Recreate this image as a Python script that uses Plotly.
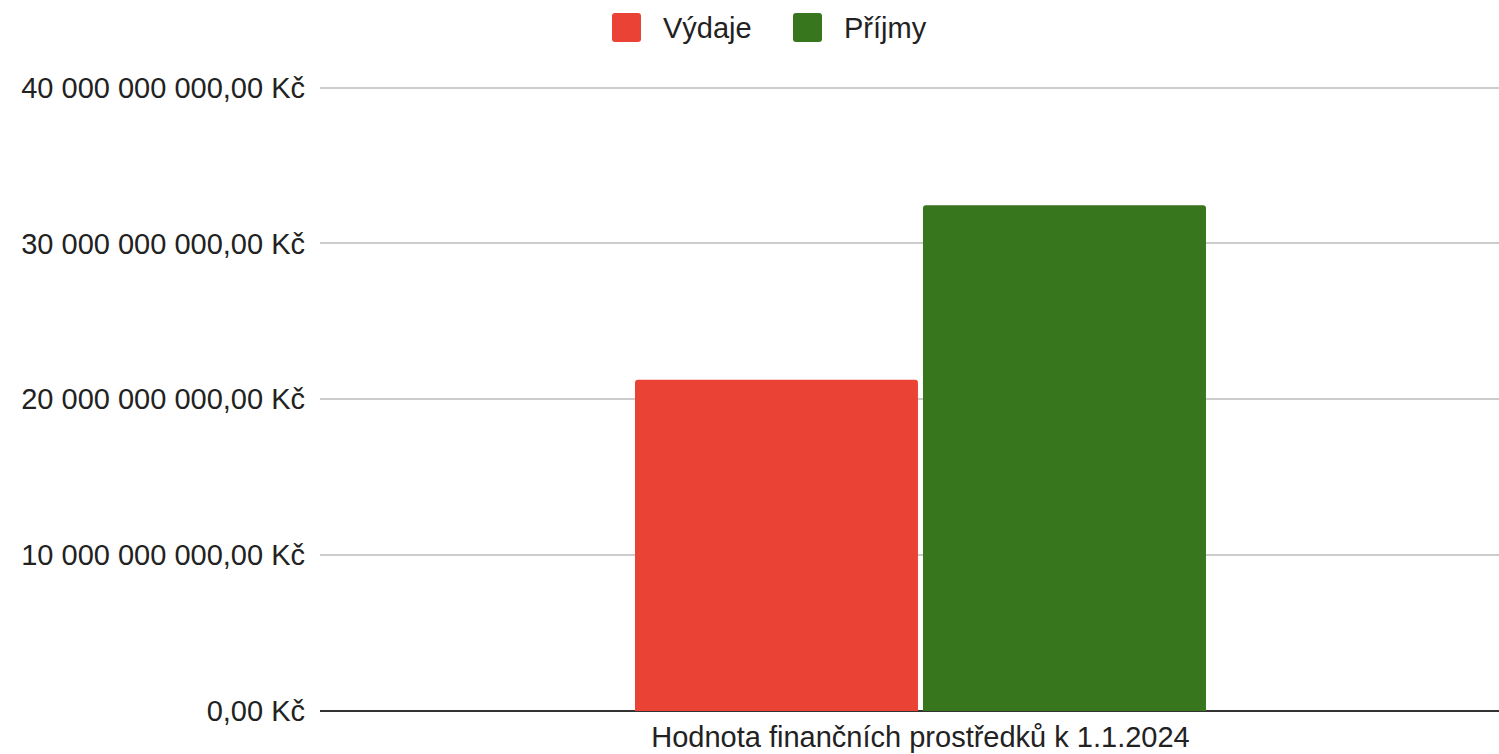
import plotly.graph_objects as go

categories = ["Hodnota finančních prostředků k 1.1.2024"]
series_names = ["Výdaje", "Příjmy"]
vydaje = [21.25e9]
prijmy = [32.45e9]
series_values = [vydaje, prijmy]
colors = ["#EA4335", "#38761D"]
tick_values = [0, 10e9, 20e9, 30e9, 40e9]
tick_labels = ["0,00 Kč", "10 000 000 000,00 Kč", "20 000 000 000,00 Kč",
               "30 000 000 000,00 Kč", "40 000 000 000,00 Kč"]

FONT = "Arial, 'Liberation Sans', sans-serif"
TXT = "#222222"
W, H = 1499, 754
ML, MR, MT, MB = 320, 0, 86, 43

fig = go.Figure()
for name, vals, col in zip(series_names, series_values, colors):
    fig.add_trace(go.Bar(x=categories, y=vals, name=name, marker_color=col,
                         marker_line_width=0, showlegend=False))

# custom legend (large rounded swatches, like the original)
def px_to_paper_x(px):
    return (px - ML) / (W - ML - MR)

def px_to_paper_y(py):
    return (H - MB - py) / (H - MT - MB)

half, r = 14.5, 3
sq = (f"M {-half+r},{-half} L {half-r},{-half} Q {half},{-half} {half},{-half+r} "
      f"L {half},{half-r} Q {half},{half} {half-r},{half} L {-half+r},{half} "
      f"Q {-half},{half} {-half},{half-r} L {-half},{-half+r} Q {-half},{-half} {-half+r},{-half} Z")
legend_swatch_px = [626.5, 807.5]
legend_text_px = [661, 842]
legend_y_px = 27.5
shapes, annotations = [], []
for name, col, sx, tx in zip(series_names, colors, legend_swatch_px, legend_text_px):
    shapes.append(dict(type="path", xref="paper", yref="paper",
                       xsizemode="pixel", ysizemode="pixel",
                       xanchor=px_to_paper_x(sx), yanchor=px_to_paper_y(legend_y_px),
                       path=sq, fillcolor=col, line=dict(width=0)))
    annotations.append(dict(text=name, xref="paper", yref="paper",
                            x=px_to_paper_x(tx), y=px_to_paper_y(legend_y_px),
                            xanchor="left", yanchor="middle", showarrow=False,
                            font=dict(family=FONT, size=29, color=TXT)))

fig.update_layout(
    width=W, height=H,
    margin=dict(l=ML, r=MR, t=MT, b=MB),
    paper_bgcolor="white", plot_bgcolor="white",
    barmode="group", bargap=0.5204, bargroupgap=0.0174,
    barcornerradius=3,
    font=dict(family=FONT, size=29, color=TXT),
    showlegend=False,
    shapes=shapes, annotations=annotations,
    xaxis=dict(type="category", range=[-0.5, 0.4817], showgrid=False,
               showline=False, ticks="", automargin=False, ticklabelstandoff=6,
               tickfont=dict(family=FONT, size=29, color=TXT), fixedrange=True),
    yaxis=dict(range=[0, 40.1e9], tickvals=tick_values, ticktext=tick_labels,
               showgrid=True, gridcolor="#cccccc", gridwidth=1.5,
               zeroline=True, zerolinecolor="#333333", zerolinewidth=2,
               showline=False, ticks="", ticklabelstandoff=14, automargin=False,
               tickfont=dict(family=FONT, size=29, color=TXT), fixedrange=True),
)

fig.write_html("out.html", config={"displayModeBar": False},
               post_script="document.body.style.margin='0';")
